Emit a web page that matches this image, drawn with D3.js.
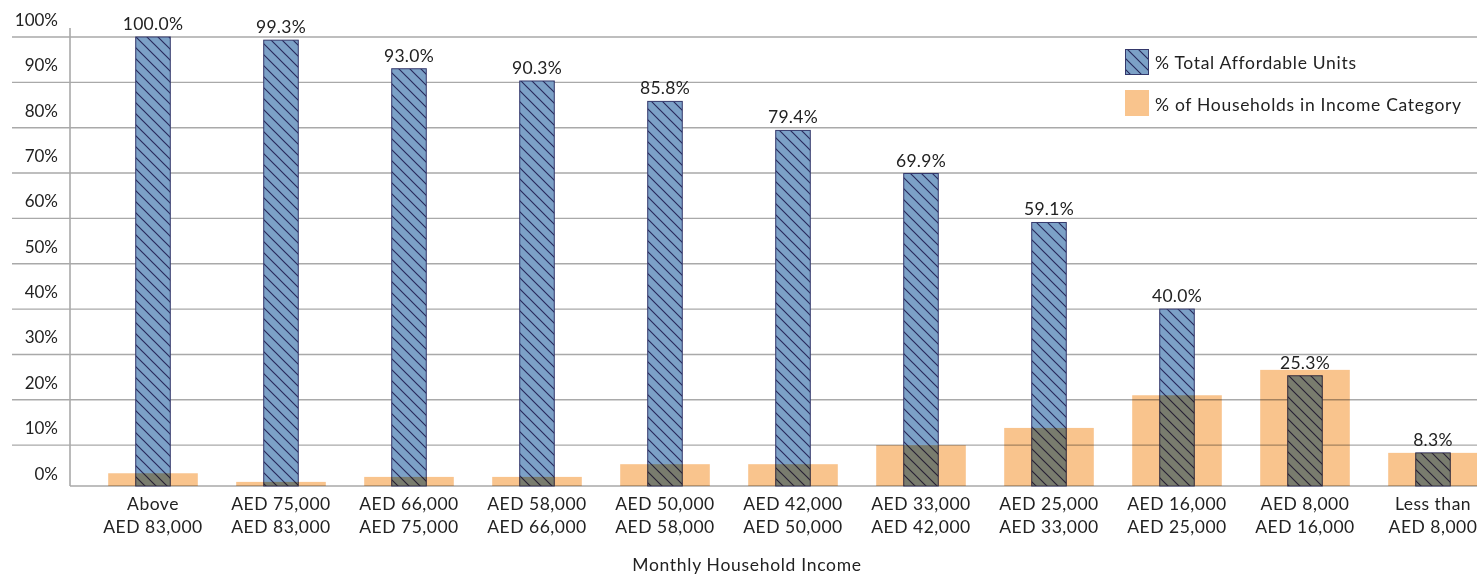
<!DOCTYPE html>
<html>
<head>
<meta charset="utf-8">
<script src="https://cdn.jsdelivr.net/npm/d3@7"></script>
<style>
  html, body { margin: 0; padding: 0; background: #fff; }
  svg { display: block; font-family: Lato, "Open Sans", sans-serif; }
</style>
</head>
<body>
<svg id="chart" width="1477" height="576"></svg>
<script>
// Income bands (two-line labels)
const categories = [
  ["Above", "AED 83,000"],
  ["AED 75,000", "AED 83,000"],
  ["AED 66,000", "AED 75,000"],
  ["AED 58,000", "AED 66,000"],
  ["AED 50,000", "AED 58,000"],
  ["AED 42,000", "AED 50,000"],
  ["AED 33,000", "AED 42,000"],
  ["AED 25,000", "AED 33,000"],
  ["AED 16,000", "AED 25,000"],
  ["AED 8,000", "AED 16,000"],
  ["Less than", "AED 8,000"]
];
// % of total affordable units
const affordableUnits = [100.0, 99.3, 93.0, 90.3, 85.8, 79.4, 69.9, 59.1, 40.0, 25.3, 8.3];
// % of households in each income category
const householdShare = [3.8, 1.9, 3.0, 3.0, 5.8, 5.8, 10.0, 13.8, 21.0, 26.6, 8.3];
const yTicks = [0, 10, 20, 30, 40, 50, 60, 70, 80, 90, 100];
const seriesNames = ["% Total Affordable Units", "% of Households in Income Category"];
const xTitle = "Monthly Household Income";

const svg = d3.select("#chart");
const W = 1477;
const axisX = 70;

const x = d3.scaleBand().domain(d3.range(categories.length)).range([89, 1497]).padding(0);
const y = d3.scaleLinear().domain([0, 100]).range([490.5, 37]);
const floorY = y(0) - 4.5;

const blueW = x.bandwidth() * 0.27;
const orangeW = x.bandwidth() * 0.70;

// hatch pattern for the affordable-units bars
const defs = svg.append("defs");
const P = 11;
const pat = defs.append("pattern")
  .attr("id", "hatch").attr("patternUnits", "userSpaceOnUse")
  .attr("width", P).attr("height", P);
pat.append("rect").attr("width", P).attr("height", P).attr("fill", "#7ca1c7");
pat.append("path")
  .attr("d", `M-1,-1 L${P + 1},${P + 1} M-1,${P - 1} L1,${P + 1} M${P - 1},-1 L${P + 1},1`)
  .attr("stroke", "#27295c").attr("stroke-width", 1.15).attr("fill", "none");

// gridlines
svg.append("g").selectAll("line")
  .data(yTicks.filter(t => t > 0))
  .join("line")
  .attr("x1", 12).attr("x2", W)
  .attr("y1", d => y(d)).attr("y2", d => y(d))
  .attr("stroke", "#a9a9a9").attr("stroke-width", 1.4);

// y tick labels, sitting above each gridline
svg.append("g").selectAll("text")
  .data(yTicks)
  .join("text")
  .attr("x", 58).attr("y", d => y(d) - 11)
  .attr("text-anchor", "end")
  .attr("font-size", 17).attr("fill", "#222")
  .text(d => d + "%");

// y axis line and baseline
svg.append("line").attr("x1", axisX).attr("x2", axisX).attr("y1", 28).attr("y2", floorY)
  .attr("stroke", "#a9a9a9").attr("stroke-width", 1.6);
svg.append("line").attr("x1", axisX).attr("x2", W).attr("y1", floorY).attr("y2", floorY)
  .attr("stroke", "#a9a9a9").attr("stroke-width", 1.6);

// affordable units bars
svg.append("g").selectAll("rect")
  .data(affordableUnits)
  .join("rect")
  .attr("x", (d, i) => x(i) + (x.bandwidth() - blueW) / 2)
  .attr("y", d => y(d))
  .attr("width", blueW)
  .attr("height", d => floorY - y(d))
  .attr("fill", "url(#hatch)")
  .attr("stroke", "#34386b").attr("stroke-width", 1);

// household share bars, multiplied over the others
svg.append("g").selectAll("rect")
  .data(householdShare)
  .join("rect")
  .attr("x", (d, i) => x(i) + (x.bandwidth() - orangeW) / 2)
  .attr("y", d => y(d))
  .attr("width", orangeW)
  .attr("height", d => floorY - y(d))
  .attr("fill", "#f9c48d")
  .style("mix-blend-mode", "multiply");

// value labels
svg.append("g").selectAll("text")
  .data(affordableUnits)
  .join("text")
  .attr("x", (d, i) => x(i) + x.bandwidth() / 2)
  .attr("y", d => y(d) - 7)
  .attr("text-anchor", "middle")
  .attr("font-size", 17.5).attr("letter-spacing", 0.3).attr("fill", "#222")
  .text(d => d.toFixed(1) + "%");

// category labels
const cat = svg.append("g").selectAll("text")
  .data(categories)
  .join("text")
  .attr("x", (d, i) => x(i) + x.bandwidth() / 2)
  .attr("y", 510)
  .attr("text-anchor", "middle")
  .attr("font-size", 17.5).attr("letter-spacing", 0.5).attr("fill", "#222");
cat.append("tspan").attr("x", (d, i) => x(i) + x.bandwidth() / 2).text(d => d[0]);
cat.append("tspan").attr("x", (d, i) => x(i) + x.bandwidth() / 2).attr("dy", 23).text(d => d[1]);

// axis title
svg.append("text")
  .attr("x", 747).attr("y", 571)
  .attr("text-anchor", "middle")
  .attr("font-size", 17.5).attr("letter-spacing", 0.7).attr("fill", "#222")
  .text(xTitle);

// legend
const legend = svg.append("g");
legend.append("rect").attr("x", 1125.5).attr("y", 49.5).attr("width", 23).attr("height", 25)
  .attr("fill", "url(#hatch)").attr("stroke", "#34386b");
legend.append("rect").attr("x", 1125).attr("y", 90).attr("width", 24).attr("height", 26)
  .attr("fill", "#f9c48d");
legend.selectAll("text.lg")
  .data(seriesNames)
  .join("text")
  .attr("class", "lg")
  .attr("x", 1155)
  .attr("y", (d, i) => 69 + i * 42)
  .attr("font-size", 17.5).attr("letter-spacing", 0.7).attr("fill", "#222")
  .text(d => d);
</script>
</body>
</html>
